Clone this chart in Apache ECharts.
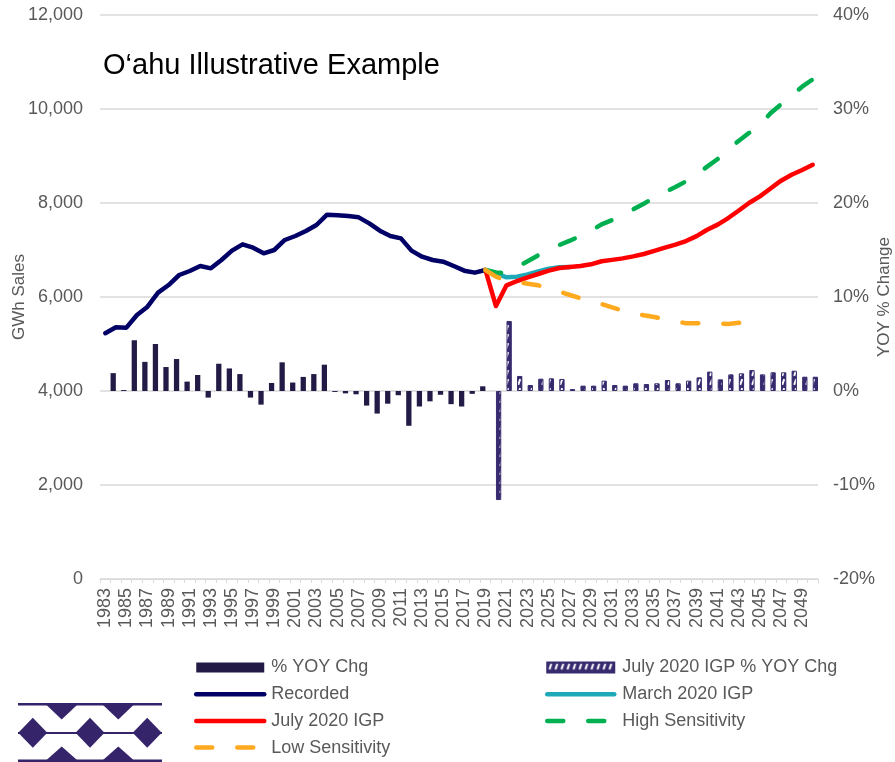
<!DOCTYPE html>
<html>
<head>
<meta charset="utf-8">
<title>O‘ahu Illustrative Example</title>
<script src="https://cdn.jsdelivr.net/npm/echarts@6/dist/echarts.min.js"></script>
<style>
  html, body { margin: 0; padding: 0; background: #fff; }
  #chart { width: 895px; height: 762px; }
</style>
</head>
<body>
<div id="chart"></div>
<script>
  // categories
  var years = [
    '1983','1984','1985','1986','1987','1988','1989','1990','1991','1992',
    '1993','1994','1995','1996','1997','1998','1999','2000','2001','2002',
    '2003','2004','2005','2006','2007','2008','2009','2010','2011','2012',
    '2013','2014','2015','2016','2017','2018','2019','2020','2021','2022',
    '2023','2024','2025','2026','2027','2028','2029','2030','2031','2032',
    '2033','2034','2035','2036','2037','2038','2039','2040','2041','2042',
    '2043','2044','2045','2046','2047','2048','2049','2050'
  ];

  // GWh, 1983 - 2019
  var recorded = [5230, 5355, 5348, 5617, 5794, 6092, 6255, 6468, 6553, 6660,
    6610, 6787, 6986, 7121, 7050, 6930, 7000, 7213, 7298, 7404,
    7532, 7752, 7738, 7723, 7695, 7567, 7411, 7298, 7248, 6986,
    6858, 6787, 6752, 6660, 6560, 6518, 6575];

  // % change, 1984 - 2019
  var yoyHist = [1.9, 0.1, 5.4, 3.1, 5.0, 2.55, 3.4, 1.0, 1.7, -0.7,
    2.9, 2.4, 1.8, -0.7, -1.45, 0.85, 3.05, 0.9, 1.5, 1.8,
    2.8, -0.1, -0.25, -0.35, -1.55, -2.4, -1.35, -0.45, -3.7, -1.65,
    -1.1, -0.4, -1.4, -1.65, -0.3, 0.5];

  // % change, 2020 - 2050
  var yoyJuly = [-11.6, 7.45, 1.6, 0.64, 1.31, 1.35, 1.28, 0.21, 0.57, 0.57,
    1.1, 0.64, 0.57, 0.82, 0.74, 0.82, 1.17, 0.82, 1.1, 1.45,
    2.06, 1.24, 1.77, 1.88, 2.23, 1.77, 1.99, 1.99, 2.16, 1.52, 1.52];

  // GWh, 2019 - 2050
  var july2020 = [6575, 5808, 6248, 6340, 6418, 6489, 6560, 6617, 6638, 6660,
    6695, 6760, 6790, 6822, 6865, 6915, 6980, 7050, 7113, 7190,
    7295, 7430, 7540, 7680, 7840, 8005, 8140, 8308, 8475, 8600, 8702, 8812];

  // GWh, 2019 - 2027 (rest sits under the July line)
  var march2020 = [6575, 6504, 6418, 6433, 6482, 6546, 6603, 6631, 6638];

  // GWh, 2019 - 2050
  var highSens = [6575, 6520, 6510, 6640, 6759, 6887, 7000, 7106, 7198, 7298,
    7411, 7546, 7638, 7752, 7865, 7985, 8113, 8234, 8340, 8461,
    8610, 8773, 8936, 9142, 9326, 9496, 9667, 9908, 10099, 10291, 10475, 10631];

  // GWh, 2019 - 2044
  var lowSens = [6575, 6433, 6348, 6319, 6284, 6248, 6191, 6113, 6043, 5972,
    5901, 5851, 5780, 5709, 5653, 5610, 5574, 5525, 5482, 5440,
    5440, 5454, 5440, 5426, 5450, 5490];

  var leftTicks = [0, 12000, 2000];
  var rightTicks = [-20, 40, 10];

  // put a partial series onto the full year axis
  function place(startYear, vals) {
    var out = [];
    var start = years.indexOf(startYear);
    for (var i = 0; i < years.length; i++) {
      var j = i - start;
      out.push(j >= 0 && j < vals.length ? vals[j] : null);
    }
    return out;
  }

  function hatch() {
    var c = document.createElement('canvas');
    c.width = 6;
    c.height = 9;
    var g = c.getContext('2d');
    g.fillStyle = '#372A6E';
    g.fillRect(0, 0, 6, 9);
    g.strokeStyle = '#ffffff';
    g.lineWidth = 2;
    g.beginPath();
    g.moveTo(4.2, 1.2);
    g.lineTo(2.2, 6.8);
    g.stroke();
    return c;
  }

  var gray = '#595959';
  var font = '"Liberation Sans", Arial, sans-serif';
  var logoColor = '#35246A';

  function lineSeries(name, color, data, dashed) {
    return {
      name: name,
      type: 'line',
      data: data,
      symbol: 'none',
      showSymbol: false,
      connectNulls: false,
      yAxisIndex: 0,
      lineStyle: {
        color: color,
        width: 4.5,
        cap: 'round',
        join: 'round',
        type: dashed ? [16, 25] : 'solid'
      },
      itemStyle: { color: color }
    };
  }

  // line entries in the legend: hide the marker, keep the stroke
  function lineItem(name) {
    return { name: name, itemStyle: { opacity: 0 }, lineStyle: { width: 4.5, cap: 'round' } };
  }

  var chart = echarts.init(document.getElementById('chart'));

  chart.setOption({
    animation: false,
    textStyle: { fontFamily: font },
    title: {
      text: 'O‘ahu Illustrative Example',
      left: 98,
      top: 46,
      textStyle: { fontSize: 29, fontWeight: 'normal', color: '#000', fontFamily: font }
    },
    grid: { left: 100, right: 77, top: 15, bottom: 183, containLabel: false, outerBoundsMode: 'none' },
    legend: [
      {
        orient: 'vertical',
        left: 194,
        top: 658.5,
        padding: 0,
        itemWidth: 68,
        itemHeight: 10,
        itemGap: 8.7,
        textStyle: { fontSize: 18, color: gray, lineHeight: 18, padding: [0, 0, 0, 2] },
        data: [
          { name: '% YOY Chg', icon: 'rect' },
          lineItem('Recorded'),
          lineItem('July 2020 IGP'),
          lineItem('Low Sensitivity')
        ]
      },
      {
        orient: 'vertical',
        left: 545,
        top: 658.5,
        padding: 0,
        itemWidth: 67,
        itemHeight: 10,
        itemGap: 8.7,
        textStyle: { fontSize: 18, color: gray, lineHeight: 18, padding: [0, 0, 0, 3] },
        data: [
          { name: 'July 2020 IGP % YOY Chg', icon: 'rect' },
          lineItem('March 2020 IGP'),
          lineItem('High Sensitivity')
        ]
      }
    ],
    xAxis: {
      type: 'category',
      data: years,
      boundaryGap: true,
      axisLine: { lineStyle: { color: '#D9D9D9', width: 1 } },
      axisTick: { show: true, interval: 0, length: 4, lineStyle: { color: '#D9D9D9' } },
      axisLabel: { interval: 1, rotate: 90, margin: 9, fontSize: 18, color: gray }
    },
    yAxis: [
      {
        type: 'value',
        min: leftTicks[0],
        max: leftTicks[1],
        interval: leftTicks[2],
        name: 'GWh Sales',
        nameLocation: 'middle',
        nameRotate: 90,
        nameGap: 72,
        nameMoveOverlap: false,
        nameTextStyle: { fontSize: 17, color: gray },
        axisLine: { show: false },
        axisTick: { show: false },
        axisLabel: {
          margin: 17,
          fontSize: 18,
          color: gray,
          formatter: function (v) { return v.toLocaleString('en-US'); }
        },
        splitLine: { lineStyle: { color: '#D9D9D9', width: 1.5 } }
      },
      {
        type: 'value',
        min: rightTicks[0],
        max: rightTicks[1],
        interval: rightTicks[2],
        position: 'right',
        name: 'YOY % Change',
        nameLocation: 'middle',
        nameRotate: 90,
        nameGap: 58,
        nameMoveOverlap: false,
        nameTextStyle: { fontSize: 17, color: gray },
        axisLine: { show: false },
        axisTick: { show: false },
        axisLabel: { margin: 15, fontSize: 18, color: gray, formatter: '{value}%' },
        splitLine: { show: false }
      }
    ],
    series: [
      {
        name: '% YOY Chg',
        type: 'bar',
        yAxisIndex: 1,
        data: place('1984', yoyHist),
        barGap: '0%',
        barCategoryGap: '0%',
        itemStyle: { color: '#231A46' }
      },
      {
        name: 'July 2020 IGP % YOY Chg',
        type: 'bar',
        yAxisIndex: 1,
        data: place('2020', yoyJuly),
        barGap: '0%',
        barCategoryGap: '0%',
        itemStyle: {
          color: { image: hatch(), repeat: 'repeat' },
          borderColor: '#372A6E',
          borderWidth: 1
        }
      },
      lineSeries('Recorded', '#000066', place('1983', recorded), false),
      lineSeries('March 2020 IGP', '#1DA9B8', place('2019', march2020), false),
      lineSeries('July 2020 IGP', '#FF0000', place('2019', july2020), false),
      lineSeries('High Sensitivity', '#00B050', place('2019', highSens), true),
      lineSeries('Low Sensitivity', '#FFA91F', place('2019', lowSens), true)
    ],
    // logo, bottom left
    graphic: [
      { type: 'rect', shape: { x: 18, y: 703, width: 144, height: 2.5 }, style: { fill: logoColor } },
      { type: 'rect', shape: { x: 18, y: 732, width: 144, height: 2 }, style: { fill: logoColor } },
      { type: 'rect', shape: { x: 18, y: 759.5, width: 144, height: 2.5 }, style: { fill: logoColor } },
      { type: 'polygon', shape: { points: [[46.5, 705], [77, 705], [61.7, 719.5]] }, style: { fill: logoColor } },
      { type: 'polygon', shape: { points: [[103, 705], [133.5, 705], [118.3, 719.5]] }, style: { fill: logoColor } },
      { type: 'polygon', shape: { points: [[46.5, 760], [77, 760], [61.7, 746.5]] }, style: { fill: logoColor } },
      { type: 'polygon', shape: { points: [[103, 760], [133.5, 760], [118.3, 746.5]] }, style: { fill: logoColor } },
      { type: 'polygon', shape: { points: [[18.3, 732.7], [32.8, 717.7], [47.3, 732.7], [32.8, 747.7]] }, style: { fill: logoColor } },
      { type: 'polygon', shape: { points: [[75.5, 732.7], [90, 717.7], [104.5, 732.7], [90, 747.7]] }, style: { fill: logoColor } },
      { type: 'polygon', shape: { points: [[132.7, 732.7], [147.2, 717.7], [161.7, 732.7], [147.2, 747.7]] }, style: { fill: logoColor } }
    ]
  });
</script>
</body>
</html>
